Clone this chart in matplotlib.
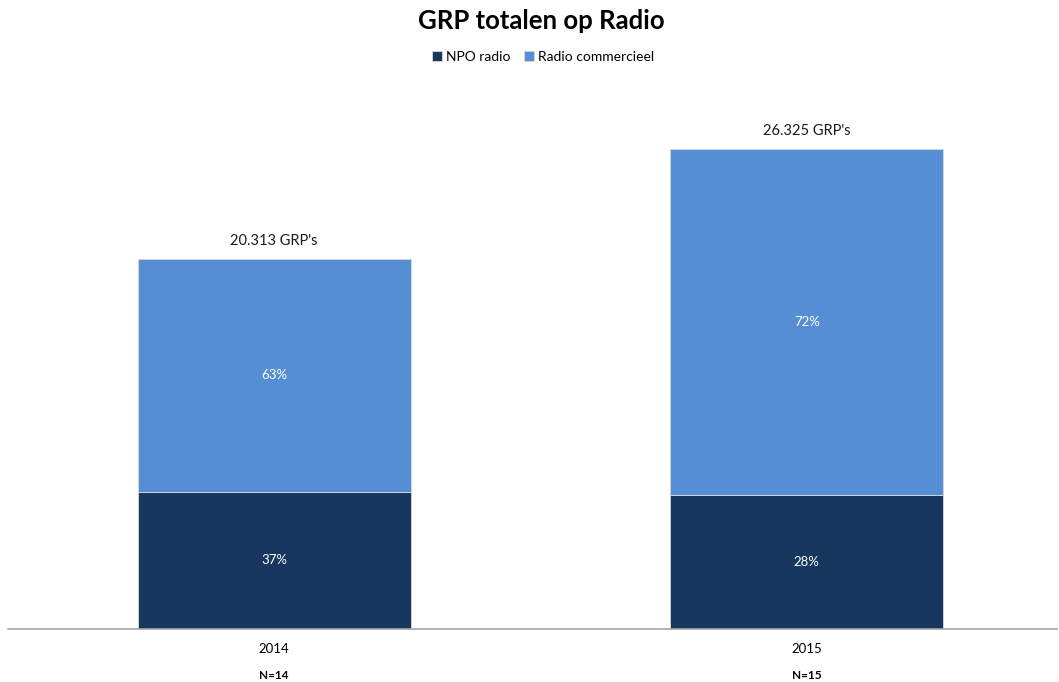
import numpy as np
import matplotlib.pyplot as plt

plt.rcParams['font.family'] = ['Lato', 'DejaVu Sans']

# data
jaren = ['2014', '2015']
n_labels = ['N=14', 'N=15']
totaal = [20313, 26325]
npo_pct = [37, 28]
comm_pct = [63, 72]

npo = [t * p / 100 for t, p in zip(totaal, npo_pct)]
comm = [t * p / 100 for t, p in zip(totaal, comm_pct)]

kleur_npo = '#17375E'
kleur_comm = '#558ED5'

fig = plt.figure(figsize=(10.59, 6.82), dpi=100)
ax = fig.add_axes([8 / 1059, 1 - 629 / 682, 1049 / 1059, 534 / 682])

x = np.arange(len(jaren))
b1 = ax.bar(x, npo, width=0.513, color=kleur_npo, edgecolor='#D9D9D9', linewidth=0.6,
            label='NPO radio')
b2 = ax.bar(x, comm, width=0.513, bottom=npo, color=kleur_comm, edgecolor='#D9D9D9',
            linewidth=0.6, label='Radio commercieel')

for i in range(len(jaren)):
    ax.text(x[i], npo[i] / 2, f'{npo_pct[i]}%', ha='center', va='center',
            color='white', fontsize=9.5)
    ax.text(x[i], npo[i] + comm[i] / 2, f'{comm_pct[i]}%', ha='center', va='center',
            color='white', fontsize=9.5)
    tot = f'{totaal[i]:,}'.replace(',', '.') + " GRP's"
    ax.annotate(tot, (x[i], totaal[i]), xytext=(0, 8), textcoords='offset points',
                ha='center', va='bottom', fontsize=10.5, color='#1a1a1a')
    ax.text(x[i], -0.088, n_labels[i], transform=ax.get_xaxis_transform(),
            ha='center', va='center', fontsize=8.5, fontweight='bold')

ax.set_xlim(-0.5, 1.47)
ax.set_ylim(0, 26325 * 534 / 480)
ax.set_xticks(x)
ax.set_xticklabels(jaren, fontsize=9.5)
ax.tick_params(axis='x', length=0, pad=10)
ax.set_yticks([])
for s in ['top', 'right', 'left']:
    ax.spines[s].set_visible(False)
ax.spines['bottom'].set_color('#A6A6A6')
ax.spines['bottom'].set_linewidth(1.2)

fig.text(541 / 1059, 1 - 21 / 682, 'GRP totalen op Radio', ha='center', va='center',
         fontsize=18.5, fontweight='bold')
fig.legend(handles=[b1, b2], loc='center', bbox_to_anchor=(543 / 1059, 1 - 57 / 682), ncol=2,
           frameon=False, fontsize=10, handlelength=0.7, handleheight=0.7,
           handletextpad=0.3, columnspacing=1.0)

fig.savefig('out.png', dpi=100)
